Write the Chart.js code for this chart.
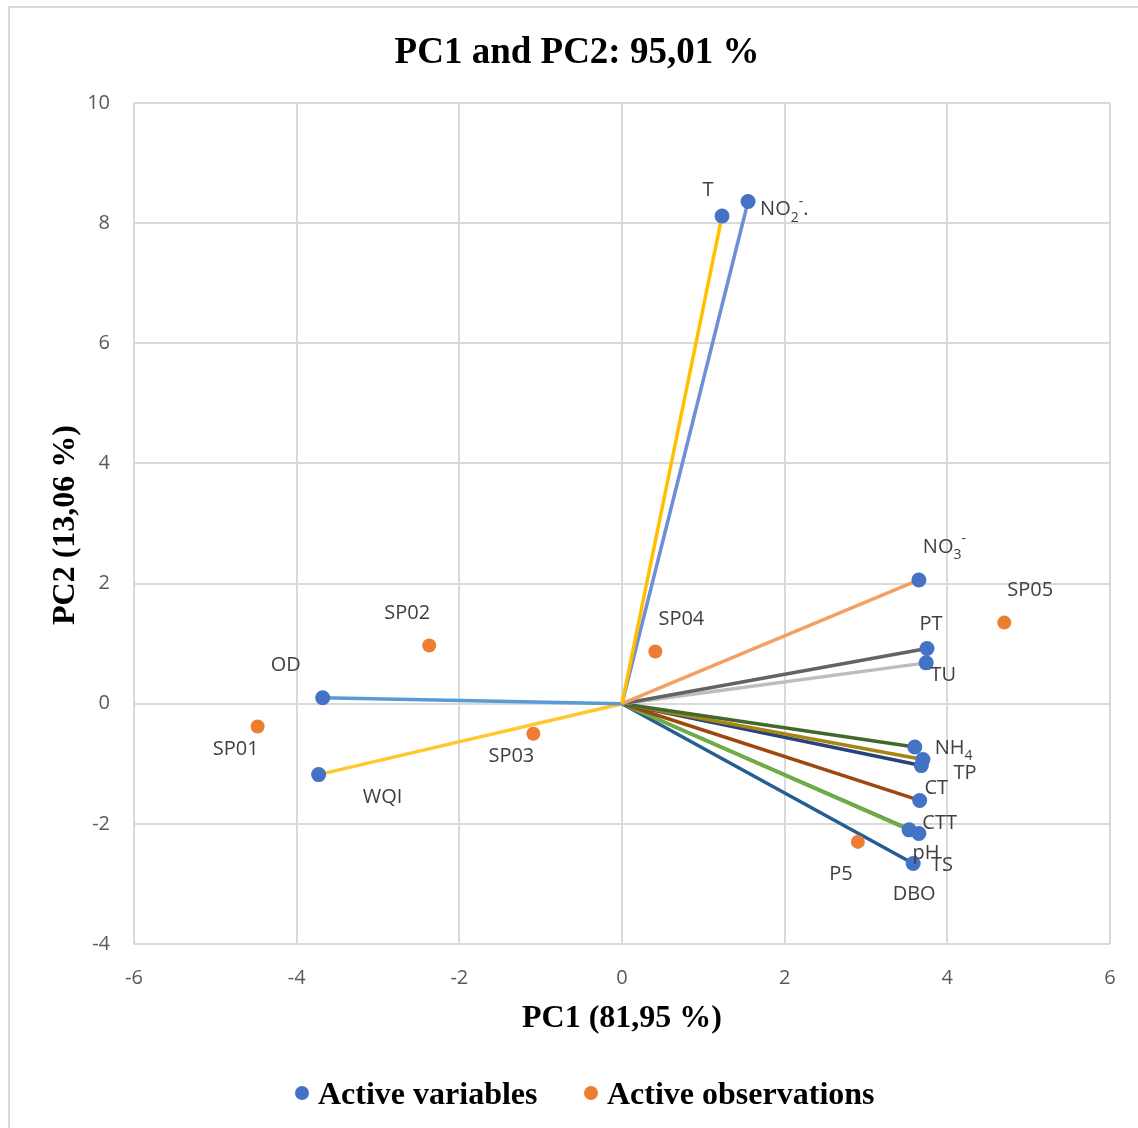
<!DOCTYPE html>
<html>
<head>
<meta charset="utf-8">
<script src="https://cdn.jsdelivr.net/npm/chart.js@4.4.1/dist/chart.umd.min.js"></script>
<style>
  html, body { margin: 0; padding: 0; background: #fff; }
  #pca { display: block; }
</style>
</head>
<body>
<canvas id="pca" width="1138" height="1128"></canvas>
<script>
'use strict';

// --- data ---
const varNames = ['T', 'NO_{2}^{-}.', 'NO_{3}^{-}', 'PT', 'TU', 'OD', 'WQI', 'NH_{4}', 'TP', 'CT', 'CTT', 'pH', 'TS', 'DBO'];
const varPC1   = [1.23, 1.55, 3.65, 3.75, 3.74, -3.68, -3.73, 3.60, 3.70, 3.68, 3.66, 3.53, 3.65, 3.58];
const varPC2   = [8.12, 8.36, 2.06, 0.92, 0.68, 0.10, -1.18, -0.72, -0.93, -1.03, -1.61, -2.10, -2.16, -2.66];

const obsNames = ['SP01', 'SP02', 'SP03', 'SP04', 'SP05', 'P5'];
const obsPC1   = [-4.48, -2.37, -1.09, 0.41, 4.70, 2.90];
const obsPC2   = [-0.38, 0.97, -0.50, 0.87, 1.35, -2.30];

const xTicks = [-6, -4, -2, 0, 2, 4, 6];
const yTicks = [-4, -2, 0, 2, 4, 6, 8, 10];

// --- styling ---
const VAR_COLOR = '#4472C4';
const OBS_COLOR = '#ED7D31';
const lineColors = ['#FFC000', '#6E8FD8', '#F4A063', '#636363', '#BDBDBD', '#5B9BD5', '#FFC82E',
                    '#43682B', '#A88414', '#264478', '#9E480E', '#70AD47', '#5E8D3A', '#255E91'];
// label offsets in px from the marker: [dx, dy, align]
const varLabelPos = [[-14, -28, 'center'], [12, 6, 'left'], [4, -35, 'left'], [4, -26, 'center'], [17, 10, 'center'],
                     [-37, -34, 'center'], [64, 21, 'center'], [20, -1, 'left'], [42, 12, 'center'], [15, 21, 'center'],
                     [20, 21, 'center'], [17, 21, 'center'], [23, 30, 'center'], [1, 29, 'center']];
const obsLabelPos = [[-22, 21], [-22, -34], [-22, 21], [26, -34], [26, -34], [-17, 30]];

const SERIF = '"Liberation Serif", "Times New Roman", serif';
const SANS = '"Open Sans", "Liberation Sans", sans-serif';
const LABEL_SIZE = 20;

function parseRich(s) {
  const parts = [];
  const re = /([_^])\{([^}]*)\}|([^_^]+)/g;
  let m;
  while ((m = re.exec(s)) !== null) {
    if (m[3]) parts.push({ t: m[3], k: 'n' });
    else parts.push({ t: m[2], k: m[1] === '_' ? 'sub' : 'sup' });
  }
  return parts;
}

function drawRich(ctx, s, x, y, align) {
  const parts = parseRich(s);
  const big = LABEL_SIZE + 'px ' + SANS;
  const small = Math.round(LABEL_SIZE * 0.68) + 'px ' + SANS;
  let w = 0;
  parts.forEach(p => { ctx.font = p.k === 'n' ? big : small; p.w = ctx.measureText(p.t).width; w += p.w; });
  let cx = align === 'left' ? x : x - w / 2;
  ctx.textAlign = 'left';
  ctx.textBaseline = 'middle';
  y += 2;
  parts.forEach(p => {
    ctx.font = p.k === 'n' ? big : small;
    const dy = p.k === 'sub' ? 8 : p.k === 'sup' ? -8 : 0;
    ctx.fillText(p.t, cx, y + dy);
    cx += p.w;
  });
}

const frame = {
  id: 'frame',
  beforeDraw(chart) {
    const ctx = chart.ctx;
    ctx.save();
    ctx.fillStyle = '#fff';
    ctx.fillRect(0, 0, chart.width, chart.height);
    ctx.strokeStyle = '#D9D9D9';
    ctx.lineWidth = 2;
    ctx.beginPath();
    ctx.moveTo(9, chart.height + 5);
    ctx.lineTo(9, 7);
    ctx.lineTo(chart.width + 5, 7);
    ctx.stroke();
    ctx.restore();
  },
  afterDraw(chart) {
    const ctx = chart.ctx;
    ctx.save();
    ctx.fillStyle = '#000';
    ctx.textBaseline = 'middle';
    ctx.textAlign = 'center';
    ctx.font = 'bold 37px ' + SERIF;
    ctx.fillText('PC1 and PC2: 95,01 %', 577, 53);
    ctx.font = 'bold 32px ' + SERIF;
    ctx.fillText('PC1 (81,95 %)', 622, 1019);
    ctx.save();
    ctx.translate(66, 525);
    ctx.rotate(-Math.PI / 2);
    ctx.fillText('PC2 (13,06 %)', 0, 0);
    ctx.restore();
    // legend
    const items = [['Active variables', VAR_COLOR, 302], ['Active observations', OBS_COLOR, 591]];
    ctx.textAlign = 'left';
    items.forEach(([txt, col, cx]) => {
      ctx.fillStyle = col;
      ctx.beginPath();
      ctx.arc(cx, 1093, 7, 0, Math.PI * 2);
      ctx.fill();
      ctx.fillStyle = '#000';
      ctx.fillText(txt, cx + 16, 1096);
    });
    ctx.restore();
  }
};

const pointLabels = {
  id: 'pointLabels',
  afterDatasetsDraw(chart) {
    const ctx = chart.ctx, xs = chart.scales.x, ys = chart.scales.y;
    ctx.save();
    ctx.fillStyle = '#404040';
    varNames.forEach((n, i) => {
      const [dx, dy, al] = varLabelPos[i];
      drawRich(ctx, n, xs.getPixelForValue(varPC1[i]) + dx, ys.getPixelForValue(varPC2[i]) + dy, al);
    });
    obsNames.forEach((n, i) => {
      const [dx, dy] = obsLabelPos[i];
      drawRich(ctx, n, xs.getPixelForValue(obsPC1[i]) + dx, ys.getPixelForValue(obsPC2[i]) + dy, 'center');
    });
    ctx.restore();
  }
};

const vectorSets = varNames.map((n, i) => ({
  label: n,
  data: [{ x: 0, y: 0 }, { x: varPC1[i], y: varPC2[i] }],
  showLine: true,
  borderColor: lineColors[i],
  borderWidth: 3.5,
  pointRadius: 0,
  order: 2
}));

new Chart(document.getElementById('pca'), {
  type: 'scatter',
  data: {
    datasets: [
      { label: 'Active variables', data: varPC1.map((x, i) => ({ x, y: varPC2[i] })),
        backgroundColor: VAR_COLOR, borderWidth: 0, pointRadius: 7.5, order: 0 },
      { label: 'Active observations', data: obsPC1.map((x, i) => ({ x, y: obsPC2[i] })),
        backgroundColor: OBS_COLOR, borderWidth: 0, pointRadius: 7, order: 1 },
      ...vectorSets
    ]
  },
  options: {
    responsive: false,
    animation: false,
    layout: { padding: { left: 0, top: 103, right: 28, bottom: 134 } },
    plugins: { legend: { display: false }, tooltip: { enabled: false }, title: { display: false } },
    scales: {
      x: {
        type: 'linear', min: -6, max: 6,
        afterFit: s => { s.height = 50; },
        afterBuildTicks: s => { s.ticks = xTicks.map(v => ({ value: v })); },
        ticks: { color: '#595959', font: { family: SANS, size: 20 }, padding: 22, callback: v => String(v) },
        grid: { color: '#D9D9D9', lineWidth: 2, drawTicks: false },
        border: { display: false }
      },
      y: {
        type: 'linear', min: -4, max: 10,
        afterFit: s => { s.width = 134; },
        afterBuildTicks: s => { s.ticks = yTicks.map(v => ({ value: v })); },
        ticks: { color: '#595959', font: { family: SANS, size: 20 }, padding: 24, callback: v => String(v) },
        grid: { color: '#D9D9D9', lineWidth: 2, drawTicks: false },
        border: { display: false }
      }
    }
  },
  plugins: [frame, pointLabels]
});
</script>
</body>
</html>
